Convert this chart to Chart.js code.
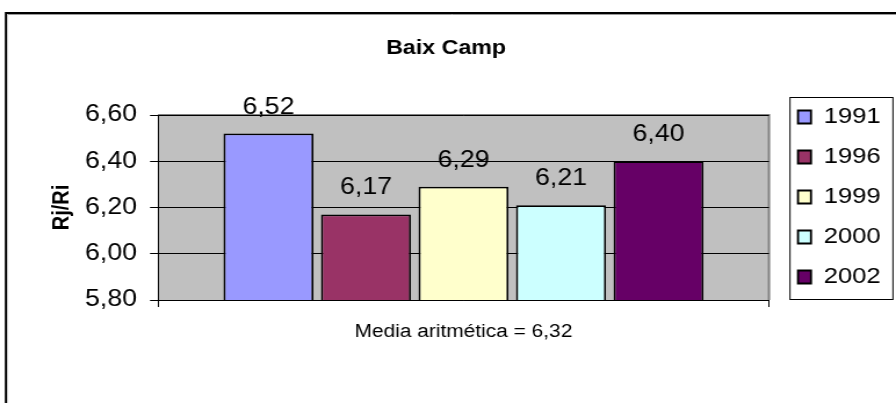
<!DOCTYPE html>
<html>
<head>
<meta charset="utf-8">
<script src="https://cdn.jsdelivr.net/npm/chart.js@4/dist/chart.umd.min.js"></script>
<style>
  html, body { margin: 0; padding: 0; background: #ffffff; overflow: hidden; }
  #wrap { width: 896px; height: 403px; overflow: hidden; }
  #c { transform: scaleX(1.16062); transform-origin: 0 0; }
</style>
</head>
<body>
<div id="wrap"><canvas id="c" width="772" height="403"></canvas></div>
<script>
// ---- data ----
const categories = [''];
const seriesNames = ['1991', '1996', '1999', '2000', '2002'];
const seriesValues = [6.52, 6.17, 6.29, 6.21, 6.40];
const seriesColors = ['#9999FF', '#993366', '#FFFFCC', '#CCFFFF', '#660066'];
const yTicks = [5.80, 6.00, 6.20, 6.40, 6.60];
const chartTitle = 'Baix Camp';
const yTitle = 'Rj/Ri';
const xTitle = 'Media aritmética = 6,32';

// The reference chart is horizontally stretched; the canvas is drawn narrower and scaled in CSS.
const S = 896 / 772;
const FONT = "'Liberation Sans', Arial, sans-serif";
Chart.defaults.font.family = FONT;
Chart.defaults.color = '#000000';

const fmt = v => Number(v).toFixed(2).replace('.', ',');

const datasets = seriesNames.map((name, i) => ({
  label: name,
  data: [seriesValues[i]],
  backgroundColor: seriesColors[i],
  borderColor: '#000000',
  borderWidth: 1.8,
  borderSkipped: false,
  categoryPercentage: 0.798,
  barPercentage: 0.923
}));

const framePlugin = {
  id: 'frame',
  beforeDraw(chart) {
    const ctx = chart.ctx;
    const {left, top, right, bottom} = chart.chartArea;
    ctx.save();
    ctx.fillStyle = '#ffffff';
    ctx.fillRect(0, 0, chart.width, chart.height);
    // outer frame
    ctx.strokeStyle = '#000000';
    ctx.lineWidth = 2;
    ctx.beginPath();
    ctx.moveTo(6 / S, chart.height);
    ctx.lineTo(6 / S, 13);
    ctx.lineTo(chart.width, 13);
    ctx.stroke();
    ctx.strokeStyle = '#9a9a9a';
    ctx.lineWidth = 1;
    ctx.beginPath();
    ctx.moveTo(8 / S, 14.5);
    ctx.lineTo(chart.width, 14.5);
    ctx.stroke();
    // plot area
    ctx.fillStyle = '#C0C0C0';
    ctx.fillRect(left, top, right - left, bottom - top);
    ctx.strokeStyle = '#808080';
    ctx.lineWidth = 2;
    ctx.beginPath();
    ctx.moveTo(left, top);
    ctx.lineTo(right, top);
    ctx.lineTo(right, bottom);
    ctx.stroke();
    ctx.restore();
  },
  afterDatasetsDraw(chart) {
    const ctx = chart.ctx;
    ctx.save();
    ctx.font = '23px ' + FONT;
    ctx.fillStyle = '#000000';
    ctx.textAlign = 'center';
    ctx.textBaseline = 'alphabetic';
    chart.data.datasets.forEach((ds, i) => {
      const meta = chart.getDatasetMeta(i);
      meta.data.forEach((bar, j) => {
        ctx.fillText(fmt(ds.data[j]), bar.x, bar.y - 20);
      });
    });
    ctx.restore();
  },
  afterDraw(chart) {
    const lg = chart.legend;
    if (!lg || !lg.legendHitBoxes || !lg.legendHitBoxes.length) return;
    const hb = lg.legendHitBoxes;
    const first = hb[0], last = hb[hb.length - 1];
    const ctx = chart.ctx;
    ctx.save();
    ctx.strokeStyle = '#000000';
    ctx.lineWidth = 1;
    const l = first.left - 6.9;
    const t = Math.round(first.top - 9) + 0.5;
    const r = first.left + 81.8;
    const b = Math.round(last.top + last.height + 11) + 0.5;
    ctx.strokeRect(l, t, r - l, b - t);
    ctx.restore();
  }
};

new Chart(document.getElementById('c'), {
  type: 'bar',
  data: { labels: categories, datasets },
  options: {
    responsive: false,
    animation: false,
    devicePixelRatio: 1,
    layout: { padding: { left: 0, right: 3.3, top: 0, bottom: 9 } },
    plugins: {
      title: {
        display: true,
        text: chartTitle,
        font: { size: 20, weight: 'bold' },
        color: '#000000',
        padding: { top: 36, bottom: 55 }
      },
      legend: {
        position: 'right',
        align: 'center',
        labels: {
          boxWidth: 13 / S,
          boxHeight: 13,
          padding: 18,
          font: { size: 22 },
          color: '#000000'
        }
      },
      tooltip: { enabled: false }
    },
    scales: {
      x: {
        offset: true,
        grid: { display: true, drawOnChartArea: false, offset: true, color: '#000000', tickLength: 7, lineWidth: 1 },
        border: { display: true, color: '#000000', width: 1 },
        ticks: { display: false },
        title: { display: true, text: xTitle, font: { size: 18 }, color: '#000000', padding: { top: 0, bottom: 51 } },
        afterFit(scale) { scale.height = 94; }
      },
      y: {
        min: yTicks[0],
        max: yTicks[yTicks.length - 1],
        afterBuildTicks(scale) { scale.ticks = yTicks.map(v => ({ value: v })); },
        ticks: { callback: v => fmt(v), font: { size: 23 }, color: '#000000', padding: 11.2 },
        grid: { color: '#000000', lineWidth: 1, tickLength: 8 / S, drawTicks: true },
        border: { display: true, color: '#000000', width: 1 },
        title: { display: true, text: yTitle, font: { size: 20, weight: 'bold' }, color: '#000000', padding: { top: 41.4, bottom: 0 } },
        afterFit(scale) { scale.width = 158 / S; }
      },
      y2: {
        position: 'right',
        display: true,
        grid: { display: false, drawTicks: false },
        border: { display: false },
        ticks: { display: false },
        afterFit(scale) { scale.width = 7; }
      }
    }
  },
  plugins: [framePlugin]
});
</script>
</body>
</html>
